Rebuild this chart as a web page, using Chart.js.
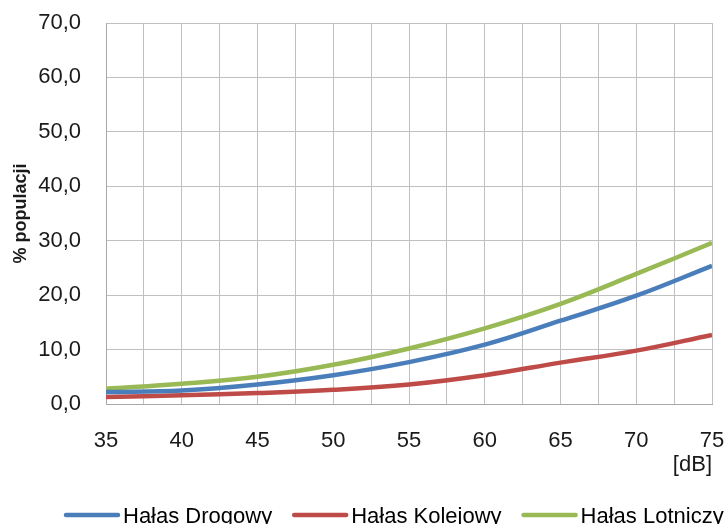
<!DOCTYPE html>
<html lang="pl">
<head>
<meta charset="utf-8">
<title>Odsetek populacji a poziom hałasu</title>
<script src="https://cdn.jsdelivr.net/npm/chart.js@4.4.1/dist/chart.umd.min.js"></script>
<style>
  html, body { margin: 0; padding: 0; background: #ffffff; overflow: hidden; }
  #wrap { width: 728px; height: 524px; }
</style>
</head>
<body>
<div id="wrap"><canvas id="chart" width="728" height="524"></canvas></div>
<script>
// Poziom hałasu [dB]
const dbLevels = [35, 40, 45, 50, 55, 60, 65, 70, 75];

// % populacji wg źródła hałasu
const roadNoise = [2.2, 2.5, 3.6, 5.3, 7.7, 10.9, 15.3, 19.9, 25.4];
const railNoise = [1.3, 1.6, 2.0, 2.6, 3.6, 5.3, 7.6, 9.8, 12.7];
const airNoise  = [2.8, 3.7, 5.0, 7.2, 10.2, 13.9, 18.4, 23.9, 29.6];

const seriesNames = ['Hałas Drogowy', 'Hałas Kolejowy', 'Hałas Lotniczy'];
const seriesColors = ['#4a7ebb', '#be4b48', '#98b954'];

const FONT = "'Liberation Sans', Arial, sans-serif";

const toPoints = vals => vals.map((v, i) => ({ x: dbLevels[i], y: v }));

// Etykiety osi mogą wychodzić poza obszar wykresu - bez dodatkowych marginesów
const noOverflowPadding = scale => {
  scale.paddingLeft = 0;
  scale.paddingRight = 0;
  scale.paddingTop = 0;
  scale.paddingBottom = 0;
};

// Legenda pod wykresem: krótka linia w kolorze serii + nazwa
const bottomLegend = {
  id: 'bottomLegend',
  afterDraw(chart) {
    const ctx = chart.ctx;
    ctx.save();
    ctx.font = '22px ' + FONT;
    ctx.textBaseline = 'alphabetic';
    ctx.textAlign = 'left';
    let x = 64;
    const lineY = 515;
    chart.data.datasets.forEach(ds => {
      ctx.strokeStyle = ds.borderColor;
      ctx.lineWidth = 4.5;
      ctx.lineCap = 'round';
      ctx.beginPath();
      ctx.moveTo(x + 2, lineY);
      ctx.lineTo(x + 54, lineY);
      ctx.stroke();
      ctx.fillStyle = '#000000';
      ctx.fillText(ds.label, x + 59, 523);
      x += 59 + ctx.measureText(ds.label).width + 20;
    });
    ctx.restore();
  }
};

new Chart(document.getElementById('chart'), {
  type: 'line',
  data: {
    datasets: [roadNoise, railNoise, airNoise].map((vals, i) => ({
      label: seriesNames[i],
      data: toPoints(vals),
      borderColor: seriesColors[i],
      backgroundColor: seriesColors[i],
      borderWidth: 4.5,
      pointRadius: 0,
      fill: false,
      tension: 0.4
    }))
  },
  options: {
    responsive: false,
    animation: false,
    devicePixelRatio: 1,
    layout: { padding: { top: 23, right: 16, left: 0, bottom: 0 } },
    plugins: {
      legend: { display: false },
      tooltip: { enabled: false }
    },
    scales: {
      x: {
        type: 'linear',
        min: 35,
        max: 75,
        afterFit(scale) { scale.height = 120; noOverflowPadding(scale); },
        ticks: {
          stepSize: 2.5,
          autoSkip: false,
          maxRotation: 0,
          padding: 24,
          color: '#1a1a1a',
          font: { family: FONT, size: 22 },
          callback: v => (v % 5 === 0 ? String(v) : '')
        },
        grid: { color: '#c0c0c0', lineWidth: 1, drawTicks: false },
        border: { color: '#a8a8a8', width: 1 },
        title: {
          display: true,
          text: '[dB]',
          align: 'end',
          color: '#1a1a1a',
          font: { family: FONT, size: 22 },
          padding: { top: 0, bottom: 46 }
        }
      },
      y: {
        min: 0,
        max: 70,
        afterFit(scale) { scale.width = 106; noOverflowPadding(scale); },
        ticks: {
          stepSize: 10,
          padding: 25,
          color: '#1a1a1a',
          font: { family: FONT, size: 22 },
          callback: v => v.toFixed(1).replace('.', ',')
        },
        grid: { color: '#c0c0c0', lineWidth: 1, drawTicks: false },
        border: { color: '#a8a8a8', width: 1 },
        title: {
          display: true,
          text: '% populacji',
          color: '#1a1a1a',
          font: { family: FONT, size: 18, weight: 'bold' },
          padding: { top: 10, bottom: 0 }
        }
      }
    }
  },
  plugins: [bottomLegend]
});
</script>
</body>
</html>
